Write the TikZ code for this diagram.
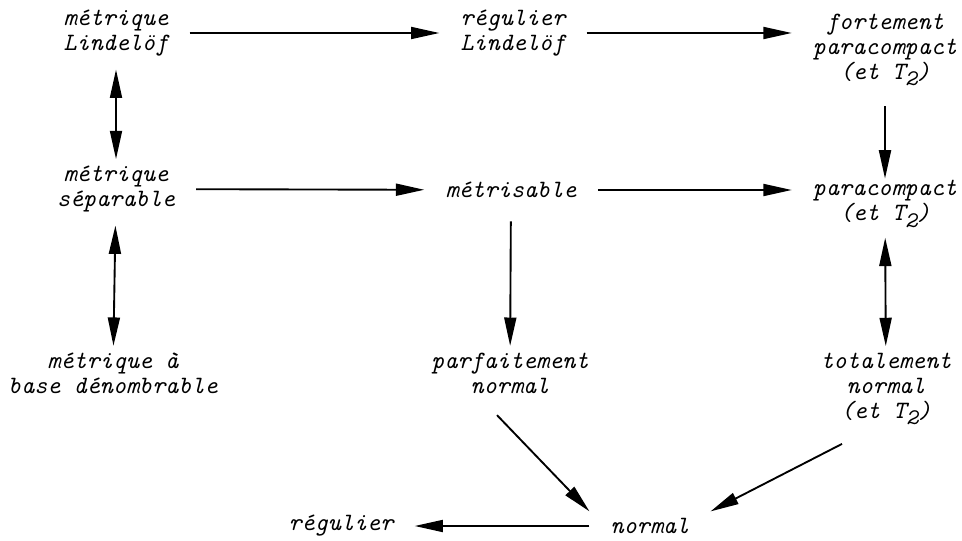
\documentclass[tikz,border=0pt]{standalone}
\usepackage{fontspec}
\usepackage{tikz}
\usetikzlibrary{calc,arrows.meta}
\newcommand{\tdeux}{T\raisebox{-0.6ex}{\fontsize{19}{19}\selectfont 2}}
\tikzset{
  ar/.style={-{Triangle[length=8.5mm,width=3.6mm]},line width=1.6pt},
  dar/.style={{Triangle[length=8.5mm,width=3.6mm]}-{Triangle[length=8.5mm,width=3.6mm]},line width=1.6pt},
  prop/.style={font=\fontsize{21.3}{21.3}\selectfont\ttfamily\itshape,align=center,inner xsep=0.63cm,inner ysep=0.2cm}
}

\begin{document}
\begin{tikzpicture}[x=0.03cm,y=-0.03cm]
\useasboundingbox (0,0) rectangle (962,541);
\node[prop] (mL) at (116,33) {métrique\\Lindelöf};
\node[prop] (rL) at (513,33) {régulier\\Lindelöf};
\node[prop] (fP) at (885,50) {fortement\\paracompact\\(et \tdeux)};
\node[prop] (mS) at (116,189) {métrique\\séparable};
\node[prop] (met) at (511,190) {métrisable};
\node[prop] (pc) at (885,204) {paracompact\\(et \tdeux)};
\node[prop] (mB) at (113,373) {métrique à\\base dénombrable};
\node[prop] (pn) at (510,373) {parfaitement\\normal};
\node[prop] (tn) at (886,389) {totalement\\normal\\(et \tdeux)};
\node[prop] (norm) at (650,526) {normal};
\node[prop] (reg) at (341,526) {régulier};
% implications
\draw[ar] (mL) -- (rL);
\draw[ar] (rL) -- (rL -| fP.west);
\draw[dar,shorten <=0.2cm] (mL) -- (mS);
\draw[ar] (mS) -- (met);
\draw[ar] (met) -- (met -| pc.west);
\draw[ar,shorten <=0.4cm,shorten >=-0.15cm] (fP) -- (pc);
\draw[dar,shorten <=0.2cm] (mS) -- (mB);
\draw[ar,shorten <=0.5cm] (met) -- (pn);
\draw[dar,shorten <=0.1cm] (pc) -- (tn);
\draw[ar] ($(pn.south)+(-13,15)$) -- (norm.north west);
\draw[ar] ($(tn.south)+(-44,12)$) -- (norm.north east);
\draw[ar] (norm) -- (reg);
\end{tikzpicture}
\end{document}
